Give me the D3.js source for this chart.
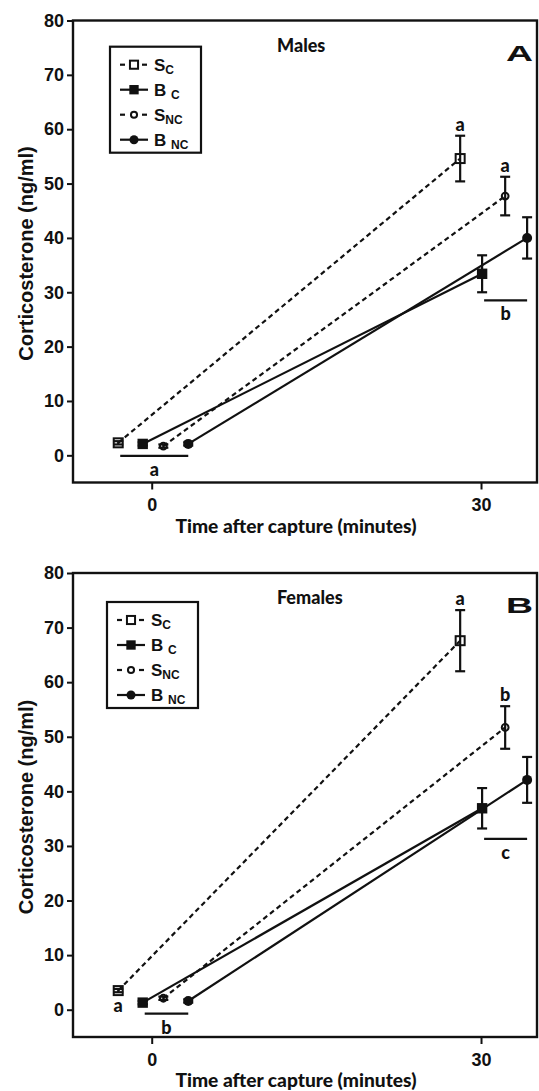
<!DOCTYPE html>
<html>
<head>
<meta charset="utf-8">
<script src="https://cdn.jsdelivr.net/npm/d3@7"></script>
<style>
  body { margin: 0; background: #fff; }
  svg { display: block; }
  .tick text { font-family: "Liberation Sans Narrow", "Liberation Sans", Arial, sans-serif; font-weight: bold; font-size: 18px; fill: #111; }
  .tick line { stroke: #111; stroke-width: 2; }
  .hum { font-family: Lato, "Open Sans", sans-serif; font-weight: 900; fill: #111; }
  .arial { font-family: "Liberation Sans", Arial, sans-serif; font-weight: bold; fill: #111; }
</style>
</head>
<body>
<svg width="539" height="1091"></svg>
<script>
// ---- data ----
const times = [0, 30];
const yTicks = [0, 10, 20, 30, 40, 50, 60, 70, 80];
const seriesMain = ["S", "B", "S", "B"];
const seriesSub  = ["C", "C", "NC", "NC"];
const seriesDashed = [true, false, true, false];
const seriesShape  = ["square-open", "square", "circle-open", "circle"];

// corticosterone means (ng/ml) at 0 and 30 min, and SEM
const malesMean   = [[2.3, 54.6], [2.1, 33.4], [1.7, 47.7], [2.1, 40.0]];
const malesSem    = [[0.3, 4.2],  [0.3, 3.4],  [0.3, 3.55], [0.3, 3.8]];
const femalesMean = [[3.5, 67.6], [1.3, 36.9], [2.1, 51.7], [1.6, 42.1]];
const femalesSem  = [[0.3, 5.6],  [0.3, 3.7],  [0.3, 3.9],  [0.3, 4.2]];

// significance letters: bars across groups and letters over single series
const malesBars   = [{t: 0, from: 0, to: 3, y: -0.1, text: "a"}, {t: 30, from: 1, to: 3, y: 28.5, text: "b"}];
const malesTags   = [{t: 30, s: 0, text: "a"}, {t: 30, s: 2, text: "a"}];
const malesLow    = [];
const femalesBars = [{t: 0, from: 1, to: 3, y: -0.7, text: "b"}, {t: 30, from: 1, to: 3, y: 31.3, text: "c"}];
const femalesTags = [{t: 30, s: 0, text: "a"}, {t: 30, s: 2, text: "b"}];
const femalesLow  = [{t: 0, s: 0, y: -0.4, text: "a"}];

// ---- layout ----
const dodge = {0: [-3.05, -0.82, 1.06, 3.33], 30: [-1.9, 0.1, 2.2, 4.2]};
const left = 73, right = 537;

const panels = [
  {title: "Males", letter: "A", top: 20.5, bottom: 482.5, mean: malesMean, sem: malesSem,
   bars: malesBars, tags: malesTags, low: malesLow, legX: 110, legY: 46.7},
  {title: "Females", letter: "B", top: 573, bottom: 1037, mean: femalesMean, sem: femalesSem,
   bars: femalesBars, tags: femalesTags, low: femalesLow, legX: 107, legY: 602}
];

const svg = d3.select("svg");
const x = d3.scaleLinear().domain([-7.17, 35.1]).range([left, right]);
const px = (t, s) => x(t + dodge[t][s]);

function marker(sel, shape, cx, cy, k) {
  k = k || 1;
  if (shape === "square-open") {
    sel.append("rect").attr("x", cx - 4.5 * k).attr("y", cy - 4.5 * k)
      .attr("width", 9 * k).attr("height", 9 * k)
      .attr("fill", "none").attr("stroke", "#111").attr("stroke-width", 2);
  } else if (shape === "square") {
    sel.append("rect").attr("x", cx - 5.2 * k).attr("y", cy - 5.2 * k)
      .attr("width", 10.4 * k).attr("height", 10.4 * k).attr("fill", "#111");
  } else if (shape === "circle-open") {
    sel.append("circle").attr("cx", cx).attr("cy", cy).attr("r", 3.4 * k)
      .attr("fill", "none").attr("stroke", "#111").attr("stroke-width", 2);
  } else {
    sel.append("circle").attr("cx", cx).attr("cy", cy).attr("r", 5 * k).attr("fill", "#111");
  }
}

panels.forEach(p => {
  const y = d3.scaleLinear().domain([-5, 80]).range([p.bottom, p.top]);
  const g = svg.append("g");

  g.append("g")
    .attr("transform", `translate(${left},0)`)
    .call(d3.axisLeft(y).tickValues(yTicks).tickSize(6).tickPadding(3))
    .call(a => a.select(".domain").remove());

  g.append("g")
    .attr("transform", `translate(0,${p.bottom})`)
    .call(d3.axisBottom(x).tickValues(times).tickSize(7).tickPadding(9))
    .call(a => a.select(".domain").remove());

  g.append("rect")
    .attr("x", left).attr("y", p.top)
    .attr("width", right - left).attr("height", p.bottom - p.top)
    .attr("fill", "none").attr("stroke", "#111").attr("stroke-width", 2.4);

  // axis titles
  g.append("text").attr("class", "arial")
    .attr("transform", `translate(33,${(p.top + p.bottom) / 2 + 2}) rotate(-90)`)
    .attr("text-anchor", "middle").attr("font-size", 20)
    .text("Corticosterone (ng/ml)");

  g.append("text").attr("class", "hum")
    .attr("x", 296).attr("y", p.bottom + 50)
    .attr("text-anchor", "middle").attr("font-size", 18.5)
    .attr("textLength", 241).attr("lengthAdjust", "spacingAndGlyphs")
    .text("Time after capture (minutes)");

  g.append("text").attr("class", "hum")
    .attr("x", 277).attr("y", p.top + 31)
    .attr("font-size", 18)
    .text(p.title);

  g.append("text").attr("class", "arial")
    .attr("x", 506).attr("y", p.top + 40)
    .attr("font-size", 22).attr("textLength", 27).attr("lengthAdjust", "spacingAndGlyphs")
    .text(p.letter);

  // series lines
  const line = d3.line().x(d => d[0]).y(d => d[1]);
  p.mean.forEach((m, s) => {
    const pts = times.map((t, i) => [px(t, s), y(m[i])]);
    g.append("path").attr("d", line(pts))
      .attr("fill", "none").attr("stroke", "#111").attr("stroke-width", 2.2)
      .attr("stroke-dasharray", seriesDashed[s] ? "5,3.5" : null);
  });

  // error bars + markers
  p.mean.forEach((m, s) => {
    times.forEach((t, i) => {
      const cx = px(t, s);
      const hi = y(m[i] + p.sem[s][i]), lo = y(m[i] - p.sem[s][i]);
      g.append("line").attr("x1", cx).attr("x2", cx).attr("y1", hi).attr("y2", lo)
        .attr("stroke", "#111").attr("stroke-width", 2.2);
      [hi, lo].forEach(v => g.append("line").attr("x1", cx - 5).attr("x2", cx + 5)
        .attr("y1", v).attr("y2", v).attr("stroke", "#111").attr("stroke-width", 2.2));
      marker(g, seriesShape[s], cx, y(m[i]));
    });
  });

  // significance letters
  p.bars.forEach(b => {
    const x1 = px(b.t, b.from) + 2, x2 = px(b.t, b.to);
    g.append("line").attr("x1", x1).attr("x2", x2).attr("y1", y(b.y)).attr("y2", y(b.y))
      .attr("stroke", "#111").attr("stroke-width", 2.2);
    g.append("text").attr("class", "hum").attr("font-size", 18)
      .attr("x", (x1 + x2) / 2).attr("y", y(b.y) + 20).attr("text-anchor", "middle")
      .text(b.text);
  });
  p.tags.forEach(a => {
    const ti = times.indexOf(a.t);
    g.append("text").attr("class", "hum").attr("font-size", 18)
      .attr("x", px(a.t, a.s)).attr("y", y(p.mean[a.s][ti] + p.sem[a.s][ti]) - 5)
      .attr("text-anchor", "middle").text(a.text);
  });
  p.low.forEach(a => {
    g.append("text").attr("class", "hum").attr("font-size", 18)
      .attr("x", px(a.t, a.s)).attr("y", y(a.y)).attr("text-anchor", "middle").text(a.text);
  });

  // legend
  const lg = g.append("g").attr("transform", `translate(${p.legX},${p.legY})`);
  lg.append("rect").attr("width", 91).attr("height", 106)
    .attr("fill", "#fff").attr("stroke", "#111").attr("stroke-width", 2.2);
  seriesMain.forEach((name, s) => {
    const ry = 18 + 25 * s;
    if (seriesDashed[s]) {
      [[10, 15], [32, 37]].forEach(seg => lg.append("line")
        .attr("x1", seg[0]).attr("x2", seg[1]).attr("y1", ry).attr("y2", ry)
        .attr("stroke", "#111").attr("stroke-width", 2.2));
    } else {
      lg.append("line").attr("x1", 10).attr("x2", 38).attr("y1", ry).attr("y2", ry)
        .attr("stroke", "#111").attr("stroke-width", 2.2);
    }
    marker(lg, seriesShape[s], 24, ry, 0.9);
    const tx = lg.append("text").attr("class", "arial").attr("x", 44).attr("y", ry + 6)
      .attr("font-size", 17);
    tx.append("tspan").text(name + (s === 1 || s === 3 ? " " : ""));
    tx.append("tspan").attr("dy", 3).attr("font-size", 12).text(seriesSub[s]);
  });
});
</script>
</body>
</html>
